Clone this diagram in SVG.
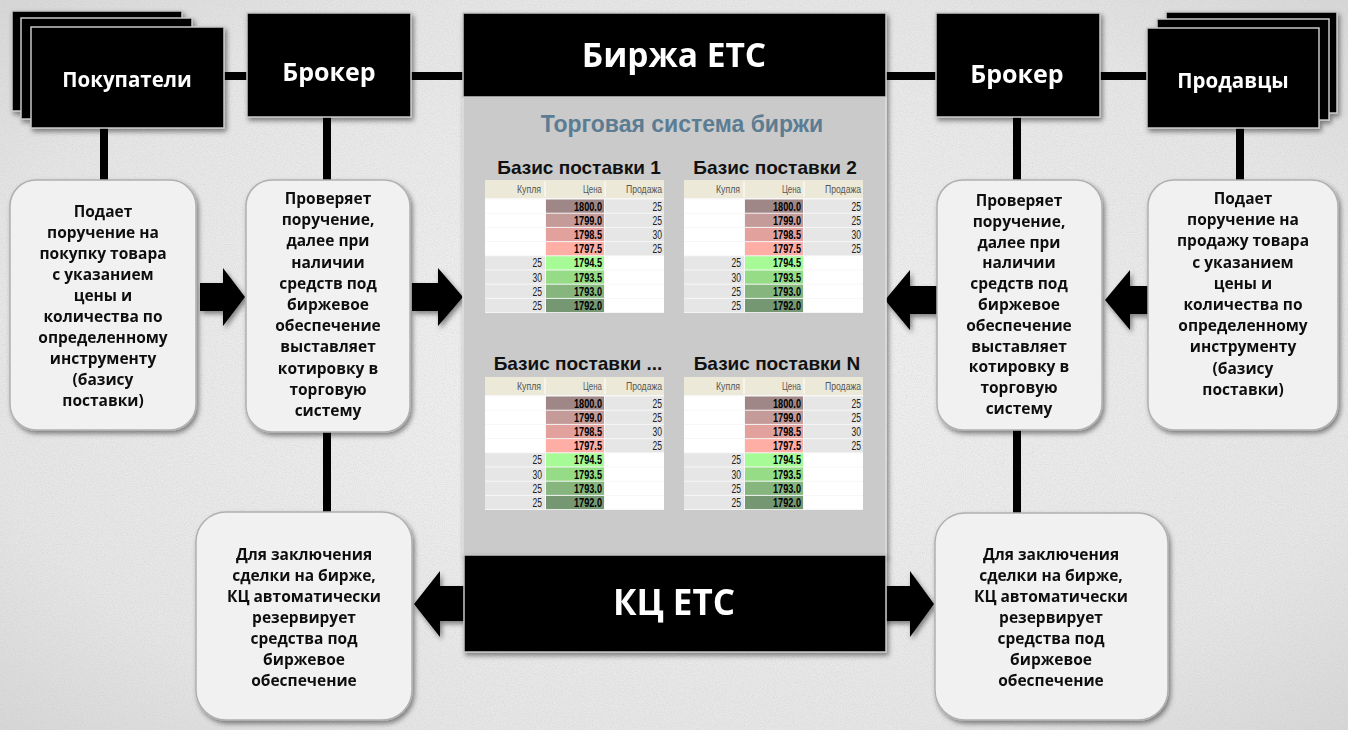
<svg xmlns="http://www.w3.org/2000/svg" width="1348" height="730" viewBox="0 0 1348 730">
<defs>
<style>
.blk{fill:#000;stroke:#c8c8c8;stroke-width:1.5}
.wt{fill:#fff;font-family:"Open Sans","Noto Sans",sans-serif;font-weight:bold;text-anchor:middle}
.rb{fill:#f1f1f1;stroke:#b0b0b0;stroke-width:1.5}
.bt{fill:#111;font-family:"Open Sans","Noto Sans",sans-serif;font-weight:bold;font-size:15.5px;text-anchor:middle}
.con{stroke:#000;stroke-width:8;fill:none}
.arr{fill:#000}
.ttl{fill:#111;font-family:"Liberation Sans",Arial,sans-serif;font-weight:bold;font-size:19px;text-anchor:middle}
.hd{fill:#555;font-family:"Liberation Sans",Arial,sans-serif;font-size:10px;text-anchor:end}
.pr{fill:#000;font-family:"Liberation Sans",Arial,sans-serif;font-weight:bold;font-size:12.5px;text-anchor:end}
.q{fill:#222;font-family:"Liberation Sans",Arial,sans-serif;font-size:12.5px;text-anchor:end}
</style>
<radialGradient id="bg" cx="0.5" cy="0.5" r="0.75">
<stop offset="0" stop-color="#f2f2f2"/>
<stop offset="0.7" stop-color="#e6e6e6"/>
<stop offset="1" stop-color="#d4d4d4"/>
</radialGradient>
<filter id="noise" x="0" y="0" width="100%" height="100%">
<feTurbulence type="fractalNoise" baseFrequency="0.9" numOctaves="2" seed="3"/>
<feColorMatrix type="matrix" values="0 0 0 0 0.5  0 0 0 0 0.5  0 0 0 0 0.5  0 0 0 -1.2 0.75"/>
</filter>
<filter id="sh" x="-10%" y="-10%" width="125%" height="125%">
<feDropShadow dx="2" dy="3" stdDeviation="2.5" flood-color="#000" flood-opacity="0.45"/>
</filter>
<g id="book">
<rect x="0" y="0" width="179" height="133" fill="#f7f7f7"/>
<rect x="0" y="0" width="179" height="18" fill="#ece9d8"/>
<line x1="60" y1="1" x2="60" y2="17" stroke="#fff" stroke-width="1"/>
<line x1="120" y1="1" x2="120" y2="17" stroke="#fff" stroke-width="1"/>
<text class="hd" x="56" y="12.5" textLength="24" lengthAdjust="spacingAndGlyphs">Купля</text>
<text class="hd" x="117" y="12.5" textLength="19" lengthAdjust="spacingAndGlyphs">Цена</text>
<text class="hd" x="177" y="12.5" textLength="36" lengthAdjust="spacingAndGlyphs">Продажа</text>
<g>
<rect x="0" y="19.5" width="60" height="13.2" fill="#fff"/><rect x="61" y="19.5" width="58" height="13.2" fill="#a08787"/><rect x="120" y="19.5" width="59" height="13.2" fill="#e6e6e6"/>
<rect x="0" y="33.7" width="60" height="13.2" fill="#fff"/><rect x="61" y="33.7" width="58" height="13.2" fill="#c49b98"/><rect x="120" y="33.7" width="59" height="13.2" fill="#e6e6e6"/>
<rect x="0" y="47.9" width="60" height="13.2" fill="#fff"/><rect x="61" y="47.9" width="58" height="13.2" fill="#e2a19d"/><rect x="120" y="47.9" width="59" height="13.2" fill="#e6e6e6"/>
<rect x="0" y="62.1" width="60" height="13.2" fill="#fff"/><rect x="61" y="62.1" width="58" height="13.2" fill="#ffaea6"/><rect x="120" y="62.1" width="59" height="13.2" fill="#e6e6e6"/>
<rect x="0" y="76.3" width="60" height="13.2" fill="#e6e6e6"/><rect x="61" y="76.3" width="58" height="13.2" fill="#a6fb96"/><rect x="120" y="76.3" width="59" height="13.2" fill="#fff"/>
<rect x="0" y="90.5" width="60" height="13.2" fill="#e6e6e6"/><rect x="61" y="90.5" width="58" height="13.2" fill="#96dc86"/><rect x="120" y="90.5" width="59" height="13.2" fill="#fff"/>
<rect x="0" y="104.7" width="60" height="13.2" fill="#e6e6e6"/><rect x="61" y="104.7" width="58" height="13.2" fill="#86b67e"/><rect x="120" y="104.7" width="59" height="13.2" fill="#fff"/>
<rect x="0" y="118.9" width="60" height="13.2" fill="#e6e6e6"/><rect x="61" y="118.9" width="58" height="13.2" fill="#759873"/><rect x="120" y="118.9" width="59" height="13.2" fill="#fff"/>
</g>
<g>
<text class="pr" x="117" y="30.6" textLength="28" lengthAdjust="spacingAndGlyphs">1800.0</text>
<text class="pr" x="117" y="44.8" textLength="28" lengthAdjust="spacingAndGlyphs">1799.0</text>
<text class="pr" x="117" y="59" textLength="28" lengthAdjust="spacingAndGlyphs">1798.5</text>
<text class="pr" x="117" y="73.2" textLength="28" lengthAdjust="spacingAndGlyphs">1797.5</text>
<text class="pr" x="117" y="87.4" textLength="28" lengthAdjust="spacingAndGlyphs">1794.5</text>
<text class="pr" x="117" y="101.6" textLength="28" lengthAdjust="spacingAndGlyphs">1793.5</text>
<text class="pr" x="117" y="115.8" textLength="28" lengthAdjust="spacingAndGlyphs">1793.0</text>
<text class="pr" x="117" y="130" textLength="28" lengthAdjust="spacingAndGlyphs">1792.0</text>
<text class="q" x="177" y="30.6" textLength="9.5" lengthAdjust="spacingAndGlyphs">25</text>
<text class="q" x="177" y="44.8" textLength="9.5" lengthAdjust="spacingAndGlyphs">25</text>
<text class="q" x="177" y="59" textLength="9.5" lengthAdjust="spacingAndGlyphs">30</text>
<text class="q" x="177" y="73.2" textLength="9.5" lengthAdjust="spacingAndGlyphs">25</text>
<text class="q" x="57" y="87.4" textLength="9.5" lengthAdjust="spacingAndGlyphs">25</text>
<text class="q" x="57" y="101.6" textLength="9.5" lengthAdjust="spacingAndGlyphs">30</text>
<text class="q" x="57" y="115.8" textLength="9.5" lengthAdjust="spacingAndGlyphs">25</text>
<text class="q" x="57" y="130" textLength="9.5" lengthAdjust="spacingAndGlyphs">25</text>
</g>
</g>
</defs>

<g id="background">
<rect x="0" y="0" width="1348" height="730" fill="url(#bg)"/>
<rect x="0" y="0" width="1348" height="730" filter="url(#noise)" opacity="0.5"/>
</g>

<g id="connectors">
<line class="con" x1="222" y1="76" x2="249" y2="76"/>
<line class="con" x1="409" y1="76" x2="465" y2="76"/>
<line class="con" x1="884" y1="76" x2="938" y2="76"/>
<line class="con" x1="1098" y1="76" x2="1150" y2="76"/>
<line class="con" x1="104" y1="126" x2="104" y2="182"/>
<line class="con" x1="327" y1="115" x2="327" y2="182"/>
<line class="con" x1="327" y1="430" x2="327" y2="515"/>
<line class="con" x1="1017" y1="115" x2="1017" y2="182"/>
<line class="con" x1="1017" y1="428" x2="1017" y2="515"/>
<line class="con" x1="1240" y1="126" x2="1240" y2="182"/>
<g filter="url(#sh)">
<polygon class="arr" points="200,283 223,283 223,268 245,297 223,326 223,311 200,311"/>
<polygon class="arr" points="412,283 438,283 438,268 463,297 438,326 438,311 412,311"/>
<polygon class="arr" points="937,286 910,286 910,270 885,300 910,330 910,314 937,314"/>
<polygon class="arr" points="1148,286 1130,286 1130,270 1105,300 1130,330 1130,314 1148,314"/>
<polygon class="arr" points="414,604 440,571 440,586 910,586 910,571 934,604 910,637 910,621 440,621 440,637"/>
</g>
</g>

<g id="pokupateli" filter="url(#sh)">
<rect class="blk" x="12" y="11" width="170" height="100"/>
<rect class="blk" x="21" y="18" width="171" height="101"/>
<rect class="blk" x="31" y="27" width="193" height="101"/>
<text class="wt" x="127" y="87" font-size="20.5">Покупатели</text>
</g>

<g id="broker-left" filter="url(#sh)">
<rect class="blk" x="247" y="13" width="164" height="104"/>
<text class="wt" x="329" y="81" font-size="25">Брокер</text>
</g>

<g id="birzha" filter="url(#sh)">
<rect x="463" y="97" width="423" height="459" fill="#cacaca" stroke="#dedede" stroke-width="1.5"/>
<rect class="blk" x="463" y="13" width="423" height="84"/>
<text class="wt" x="674" y="67" font-size="33.5">Биржа ЕТС</text>
</g>

<g id="trading-system">
<text x="682" y="132" fill="#5b7c92" font-family="'Liberation Sans',Arial,sans-serif" font-weight="bold" font-size="23" text-anchor="middle">Торговая система биржи</text>
<text class="ttl" x="579" y="174">Базис поставки 1</text>
<text class="ttl" x="775" y="174">Базис поставки 2</text>
<text class="ttl" x="578" y="370">Базис поставки ...</text>
<text class="ttl" x="777" y="370">Базис поставки N</text>
<use href="#book" x="485" y="180"/>
<use href="#book" x="684" y="180"/>
<use href="#book" x="485" y="377"/>
<use href="#book" x="684" y="377"/>
</g>

<g id="kc" filter="url(#sh)">
<rect class="blk" x="464" y="555" width="422" height="97"/>
<text class="wt" x="674" y="615" font-size="35">КЦ ЕТС</text>
</g>

<g id="broker-right" filter="url(#sh)">
<rect class="blk" x="936" y="13" width="164" height="104"/>
<text class="wt" x="1017" y="83" font-size="25">Брокер</text>
</g>

<g id="prodavcy" filter="url(#sh)">
<rect class="blk" x="1166" y="12" width="171" height="101"/>
<rect class="blk" x="1157" y="19" width="172" height="101"/>
<rect class="blk" x="1147" y="28" width="172" height="100"/>
<text class="wt" x="1233" y="88" font-size="20.5">Продавцы</text>
</g>

<g id="buyer-order" filter="url(#sh)">
<rect class="rb" x="10" y="180" width="186" height="250" rx="26"/>
<text class="bt"><tspan x="103" y="217">Подает</tspan><tspan x="103" dy="21">поручение на</tspan><tspan x="103" dy="21">покупку товара</tspan><tspan x="103" dy="21">с указанием</tspan><tspan x="103" dy="21">цены и</tspan><tspan x="103" dy="21">количества по</tspan><tspan x="103" dy="21">определенному</tspan><tspan x="103" dy="21">инструменту</tspan><tspan x="103" dy="21">(базису</tspan><tspan x="103" dy="21">поставки)</tspan></text>
</g>

<g id="broker-left-check" filter="url(#sh)">
<rect class="rb" x="246" y="180" width="164" height="252" rx="26"/>
<text class="bt"><tspan x="328" y="204">Проверяет</tspan><tspan x="328" dy="21.2">поручение,</tspan><tspan x="328" dy="21.2">далее при</tspan><tspan x="328" dy="21.2">наличии</tspan><tspan x="328" dy="21.2">средств под</tspan><tspan x="328" dy="21.2">биржевое</tspan><tspan x="328" dy="21.2">обеспечение</tspan><tspan x="328" dy="21.2">выставляет</tspan><tspan x="328" dy="21.2">котировку в</tspan><tspan x="328" dy="21.2">торговую</tspan><tspan x="328" dy="21.2">систему</tspan></text>
</g>

<g id="broker-right-check" filter="url(#sh)">
<rect class="rb" x="937" y="180" width="165" height="250" rx="26"/>
<text class="bt"><tspan x="1019" y="206">Проверяет</tspan><tspan x="1019" dy="20.8">поручение,</tspan><tspan x="1019" dy="20.8">далее при</tspan><tspan x="1019" dy="20.8">наличии</tspan><tspan x="1019" dy="20.8">средств под</tspan><tspan x="1019" dy="20.8">биржевое</tspan><tspan x="1019" dy="20.8">обеспечение</tspan><tspan x="1019" dy="20.8">выставляет</tspan><tspan x="1019" dy="20.8">котировку в</tspan><tspan x="1019" dy="20.8">торговую</tspan><tspan x="1019" dy="20.8">систему</tspan></text>
</g>

<g id="seller-order" filter="url(#sh)">
<rect class="rb" x="1148" y="180" width="190" height="250" rx="26"/>
<text class="bt"><tspan x="1243" y="204">Подает</tspan><tspan x="1243" dy="21.2">поручение на</tspan><tspan x="1243" dy="21.2">продажу  товара</tspan><tspan x="1243" dy="21.2">с указанием</tspan><tspan x="1243" dy="21.2">цены и</tspan><tspan x="1243" dy="21.2">количества по</tspan><tspan x="1243" dy="21.2">определенному</tspan><tspan x="1243" dy="21.2">инструменту</tspan><tspan x="1243" dy="21.2">(базису</tspan><tspan x="1243" dy="21.2">поставки)</tspan></text>
</g>

<g id="kc-left" filter="url(#sh)">
<rect class="rb" x="196" y="512" width="216" height="208" rx="30"/>
<text class="bt"><tspan x="304" y="560">Для заключения</tspan><tspan x="304" dy="21">сделки на бирже,</tspan><tspan x="304" dy="21">КЦ автоматически</tspan><tspan x="304" dy="21">резервирует</tspan><tspan x="304" dy="21">средства под</tspan><tspan x="304" dy="21">биржевое</tspan><tspan x="304" dy="21">обеспечение</tspan></text>
</g>

<g id="kc-right" filter="url(#sh)">
<rect class="rb" x="935" y="513" width="233" height="207" rx="30"/>
<text class="bt"><tspan x="1051" y="560">Для заключения</tspan><tspan x="1051" dy="21">сделки на бирже,</tspan><tspan x="1051" dy="21">КЦ автоматически</tspan><tspan x="1051" dy="21">резервирует</tspan><tspan x="1051" dy="21">средства под</tspan><tspan x="1051" dy="21">биржевое</tspan><tspan x="1051" dy="21">обеспечение</tspan></text>
</g>
</svg>
